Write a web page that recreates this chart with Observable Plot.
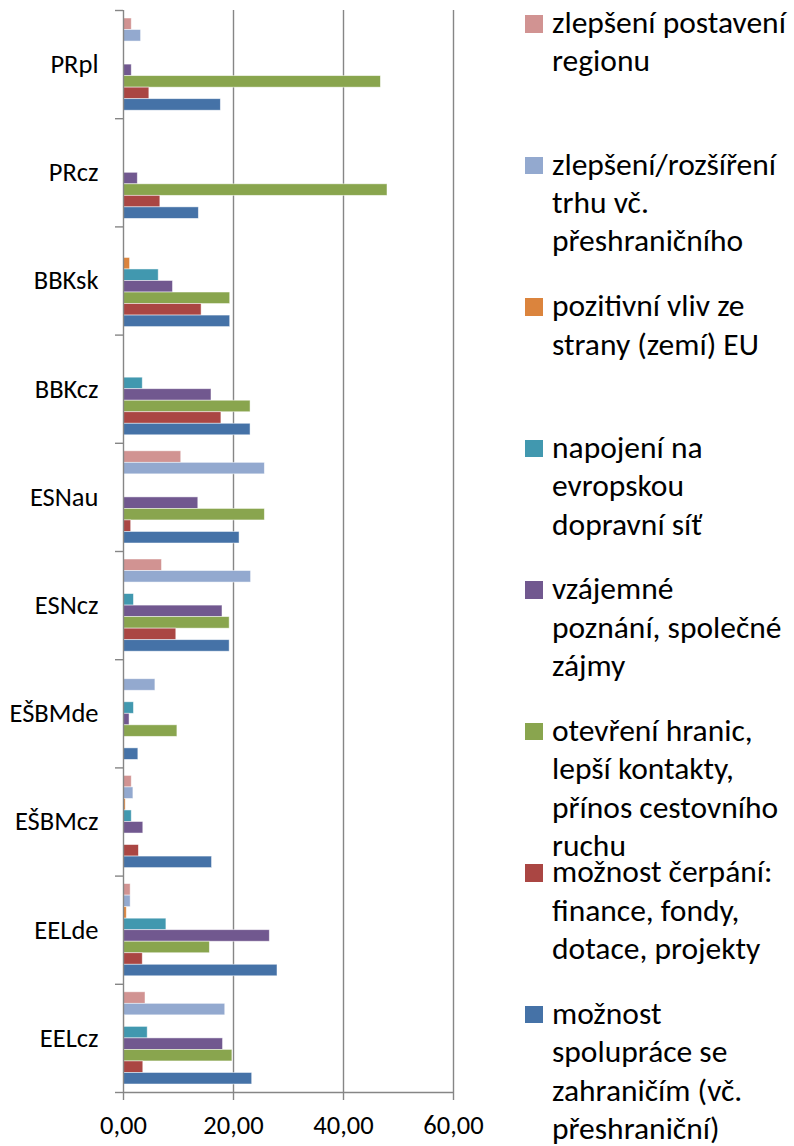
<!DOCTYPE html>
<html>
<head>
<meta charset="utf-8">
<script src="https://cdn.jsdelivr.net/npm/d3@7"></script>
<script src="https://cdn.jsdelivr.net/npm/@observablehq/plot@0.6"></script>
<style>
  body { margin: 0; background: #fff; }
  #wrap { position: relative; width: 794px; height: 1146px; font-family: Carlito, Calibri, Lato, sans-serif; }
  #chart { position: absolute; left: 0; top: 0; }
  .lg { position: absolute; left: 525px; }
  .sw { position: absolute; left: 0; top: 0; width: 17.5px; height: 17.5px; }
  .tx { position: absolute; left: 27px; top: -12px; font-size: 31.5px; line-height: 38.4px; white-space: nowrap; color: #000; }
</style>
</head>
<body>
<div id="wrap">
  <div id="chart"></div>
  <div id="legend"></div>
</div>
<script>
const categories = ["PRpl", "PRcz", "BBKsk", "BBKcz", "ESNau", "ESNcz", "EŠBMde", "EŠBMcz", "EELde", "EELcz"];

const seriesNames = [
  "zlepšení postavení regionu",
  "zlepšení/rozšíření trhu vč. přeshraničního",
  "pozitivní vliv ze strany (zemí) EU",
  "napojení na evropskou dopravní síť",
  "vzájemné poznání, společné zájmy",
  "otevření hranic, lepší kontakty, přínos cestovního ruchu",
  "možnost čerpání: finance, fondy, dotace, projekty",
  "možnost spolupráce se zahraničím (vč. přeshraniční)"
];

const legendLines = [
  ["zlepšení postavení", "regionu"],
  ["zlepšení/rozšíření", "trhu vč.", "přeshraničního"],
  ["pozitivní vliv ze", "strany (zemí) EU"],
  ["napojení na", "evropskou", "dopravní síť"],
  ["vzájemné", "poznání, společné", "zájmy"],
  ["otevření hranic,", "lepší kontakty,", "přínos cestovního", "ruchu"],
  ["možnost čerpání:", "finance, fondy,", "dotace, projekty"],
  ["možnost", "spolupráce se", "zahraničím (vč.", "přeshraniční)"]
];

const colors = ["#D19392", "#93A9CF", "#DB843D", "#4198AF", "#71588F", "#89A54E", "#AA4643", "#4572A7"];

// values per series, in category order PRpl ... EELcz
const postaveni  = [1.5, 0, 0, 0, 10.5, 7.0, 0, 1.5, 1.3, 4.0];
const trh        = [3.2, 0, 0, 0, 25.7, 23.2, 5.8, 1.8, 1.3, 18.5];
const vliv       = [0, 0, 1.2, 0, 0, 0, 0, 0.4, 0.6, 0.2];
const napojeni   = [0, 0, 6.4, 3.5, 0, 1.9, 1.9, 1.5, 7.8, 4.4];
const poznani    = [1.5, 2.6, 9.0, 16.0, 13.6, 18.0, 1.1, 3.6, 26.6, 18.1];
const hranice    = [46.8, 48.0, 19.4, 23.1, 25.7, 19.3, 9.8, 0.1, 15.7, 19.8];
const cerpani    = [4.7, 6.7, 14.2, 17.8, 1.4, 9.6, 0, 2.8, 3.5, 3.6];
const spoluprace = [17.7, 13.7, 19.4, 23.1, 21.1, 19.3, 2.7, 16.1, 28.0, 23.4];

const xTicks = [0, 20, 40, 60];

const seriesValues = [postaveni, trh, vliv, napojeni, poznani, hranice, cerpani, spoluprace];

const data = seriesValues.flatMap((vals, si) =>
  vals.map((v, ci) => ({ category: categories[ci], ci, series: seriesNames[si], si, value: v }))
).filter(d => d.value > 0);

const pad = 0.074;
const step = (1 - 2 * pad) / seriesNames.length;
const gray = "#868686";
const fmt = d => d3.format(".2f")(d).replace(".", ",");

const chart = Plot.plot({
  width: 500,
  height: 1146,
  marginLeft: 123,
  marginRight: 47,
  marginTop: 10,
  marginBottom: 54,
  style: { fontFamily: "Carlito, Calibri, Lato, sans-serif", fontSize: "26.5px", color: "#000", background: "transparent" },
  x: { domain: [0, 60], label: null },
  y: { domain: [0, categories.length], reverse: true, label: null },
  color: { domain: seriesNames, range: colors },
  marks: [
    Plot.ruleX(xTicks.slice(1), { stroke: gray, strokeWidth: 1.4 }),
    Plot.rect(data, {
      x1: 0,
      x2: "value",
      y1: d => d.ci + pad + d.si * step,
      y2: d => d.ci + pad + (d.si + 1) * step,
      fill: "series",
      stroke: "white",
      strokeOpacity: 0.6,
      strokeWidth: 0.8
    }),
    Plot.ruleX([0], { stroke: gray, strokeWidth: 1.4 }),
    Plot.ruleY([categories.length], { stroke: gray, strokeWidth: 1.4 }),
    Plot.axisY(d3.range(0, categories.length + 1), { tickSize: 8, tickFormat: () => "", stroke: gray, strokeWidth: 1.4, label: null }),
    Plot.axisY(categories.map((c, i) => i + 0.5), { tickSize: 0, tickPadding: 25, tickFormat: d => categories[Math.floor(d)], fill: "#000", label: null }),
    Plot.axisX(xTicks, { tickSize: 8, tickPadding: 15, tickFormat: fmt, stroke: gray, strokeWidth: 1.4, fill: "#000", label: null })
  ]
});
document.getElementById("chart").appendChild(chart);

const legend = document.getElementById("legend");
seriesNames.forEach((s, i) => {
  const item = document.createElement("div");
  item.className = "lg";
  item.style.top = (15 + i * 141.57) + "px";
  const sw = document.createElement("div");
  sw.className = "sw";
  sw.style.background = colors[i];
  const tx = document.createElement("div");
  tx.className = "tx";
  tx.innerHTML = legendLines[i].join("<br>");
  item.appendChild(sw);
  item.appendChild(tx);
  legend.appendChild(item);
});
</script>
</body>
</html>
